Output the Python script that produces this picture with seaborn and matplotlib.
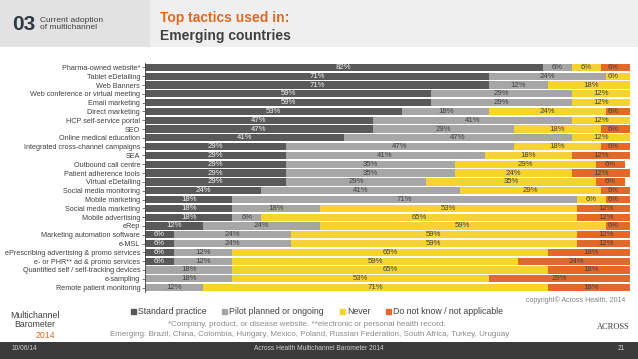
import matplotlib
matplotlib.use("Agg")
import matplotlib.pyplot as plt
import matplotlib.patches as mpatches
import seaborn as sns
import pandas as pd
import numpy as np

tactics = [
    "Pharma-owned website*", "Tablet eDetailing", "Web Banners",
    "Web conference or virtual meeting", "Email marketing", "Direct marketing",
    "HCP self-service portal", "SEO", "Online medical education",
    "Integrated cross-channel campaigns", "SEA", "Outbound call centre",
    "Patient adherence tools", "Virtual eDetailing", "Social media monitoring",
    "Mobile marketing", "Social media marketing", "Mobile advertising", "eRep",
    "Marketing automation software", "e-MSL",
    "ePrescribing advertising & promo services",
    "e- or PHR** ad & promo services",
    "Quantified self / self-tracking devices", "e-sampling",
    "Remote patient monitoring",
]
standard = [82, 71, 71, 59, 59, 53, 47, 47, 41, 29, 29, 29, 29, 29, 24, 18, 18, 18, 12, 6, 6, 6, 6, 0, 0, 0]
pilot    = [6, 24, 12, 29, 29, 18, 41, 29, 47, 47, 41, 35, 35, 29, 41, 71, 18, 6, 24, 24, 24, 12, 12, 18, 18, 12]
never    = [6, 6, 18, 12, 12, 24, 12, 18, 12, 18, 18, 29, 24, 35, 29, 6, 53, 65, 59, 59, 59, 65, 59, 65, 53, 71]
dontknow = [6, 0, 0, 0, 0, 6, 0, 6, 0, 6, 12, 6, 12, 6, 6, 6, 12, 12, 6, 12, 12, 18, 24, 18, 29, 18]
series_names = ["Standard practice", "Pilot planned or ongoing", "Never",
                "Do not know / not applicable"]
colors = ["#595959", "#A6A6A6", "#F6D32F", "#E2692A"]
text_colors = ["#F2F2F2", "#404040", "#404040", "#404040"]

df = pd.DataFrame({"tactic": tactics, "s0": standard, "s1": pilot,
                   "s2": never, "s3": dontknow})
cols = ["s0", "s1", "s2", "s3"]
cum = df[cols].cumsum(axis=1)

FONT = ["Liberation Sans", "DejaVu Sans"]
sns.set_style("white")
plt.rcParams["font.family"] = FONT

fig = plt.figure(figsize=(6.38, 3.59), dpi=100)
fig.patch.set_facecolor("white")

# header band
fig.patches.append(mpatches.Rectangle((0, 1 - 47 / 359), 1, 47 / 359,
                                      transform=fig.transFigure,
                                      facecolor="#EFEFEF", edgecolor="none", zorder=0))
fig.patches.append(mpatches.Rectangle((0, 1 - 47 / 359), 150 / 638, 47 / 359,
                                      transform=fig.transFigure,
                                      facecolor="#E2E2E2", edgecolor="none", zorder=0))
# footer band
fig.patches.append(mpatches.Rectangle((0, 0), 1, 17 / 359,
                                      transform=fig.transFigure,
                                      facecolor="#3B3B3B", edgecolor="none", zorder=0))

ax = fig.add_axes([145 / 638, 1 - 292 / 359, 485 / 638, (292 - 63) / 359])

# stacked bars: draw cumulative totals from widest to narrowest
for i in range(3, -1, -1):
    sns.barplot(x=cum[cols[i]], y=df["tactic"], orient="h", color=colors[i],
                width=0.82, ax=ax, saturation=1, edgecolor="none",
                linewidth=0, order=tactics)

# labels
for r in range(len(tactics)):
    left = 0
    for i, c in enumerate(cols):
        v = df.loc[r, c]
        if v > 0:
            ax.text(min(left + v / 2, 100 - 3.5), r, f"{v}%", ha="center",
                    va="center", fontsize=5.6, color=text_colors[i])
        left += v

ax.set_xlim(0, 100)
ax.set_ylim(len(tactics) - 0.5, -0.5)
ax.set_xlabel("")
ax.set_ylabel("")
ax.set_xticks([])
ax.tick_params(axis="y", labelsize=5.2, colors="#404040", length=2, width=0.5,
               pad=1.5, left=True)
for lab in ax.get_yticklabels():
    lab.set_color("#404040")
for s in ["top", "right", "bottom"]:
    ax.spines[s].set_visible(False)
ax.spines["left"].set_color("#404040")
ax.spines["left"].set_linewidth(0.6)

# header text
fig.text(12 / 638, 1 - 24 / 359, "03", fontsize=15, fontweight="bold",
         color="#2F3A44", va="center", ha="left")
fig.text(40 / 638, 1 - 24 / 359, "Current adoption\nof multichannel",
         fontsize=6, color="#404040", va="center", ha="left", linespacing=1.0)
fig.text(160 / 638, 1 - 18 / 359, "Top tactics used in:", fontsize=10,
         fontweight="bold", color="#E06A25", va="center", ha="left")
fig.text(160 / 638, 1 - 36 / 359, "Emerging countries", fontsize=10,
         fontweight="bold", color="#404040", va="center", ha="left")

# copyright
fig.text(625 / 638, 1 - 300 / 359, "copyright\u00a9 Across Health, 2014",
         fontsize=5, color="#808080", ha="right", va="center")

# legend
handles = [mpatches.Patch(color=c, label=n) for c, n in zip(colors, series_names)]
fig.legend(handles=handles, loc="center", bbox_to_anchor=(317 / 638, 1 - 312 / 359),
           ncol=4, frameon=False, fontsize=6.3, handlelength=0.55,
           handleheight=0.55, handletextpad=0.25, columnspacing=1.8,
           labelcolor="#404040")

fig.text(307 / 638, 1 - 324 / 359,
         "*Company, product, or disease website. **electronic or personal health record.",
         fontsize=5.8, color="#8A8A8A", ha="center", va="center")
fig.text(310 / 638, 1 - 335 / 359,
         "Emerging: Brazil, China, Colombia, Hungary, Mexico, Poland, Russian Federation, South Africa, Turkey, Uruguay",
         fontsize=5.8, color="#8A8A8A", ha="center", va="center")

# logos as text
fig.text(35 / 638, 1 - 320 / 359, "Multichannel\nBarometer", fontsize=6.3,
         color="#404040", ha="center", va="center", linespacing=1.0)
fig.text(55 / 638, 1 - 335 / 359, "2014", fontsize=6.3, color="#E06A25",
         ha="right", va="center")
fig.text(630 / 638, 1 - 327 / 359, "ACROSS", fontsize=6, color="#404040",
         ha="right", va="center", family=["Liberation Serif", "DejaVu Serif"])

# footer text
fig.text(12 / 638, 1 - 349 / 359, "10/06/14", fontsize=4.8, color="#D0D0D0",
         ha="left", va="center")
fig.text(319 / 638, 1 - 349 / 359, "Across Health Multichannel Barometer 2014",
         fontsize=4.8, color="#D0D0D0", ha="center", va="center")
fig.text(625 / 638, 1 - 349 / 359, "21", fontsize=4.8, color="#D0D0D0",
         ha="right", va="center")

fig.savefig("out.png", dpi=100)
